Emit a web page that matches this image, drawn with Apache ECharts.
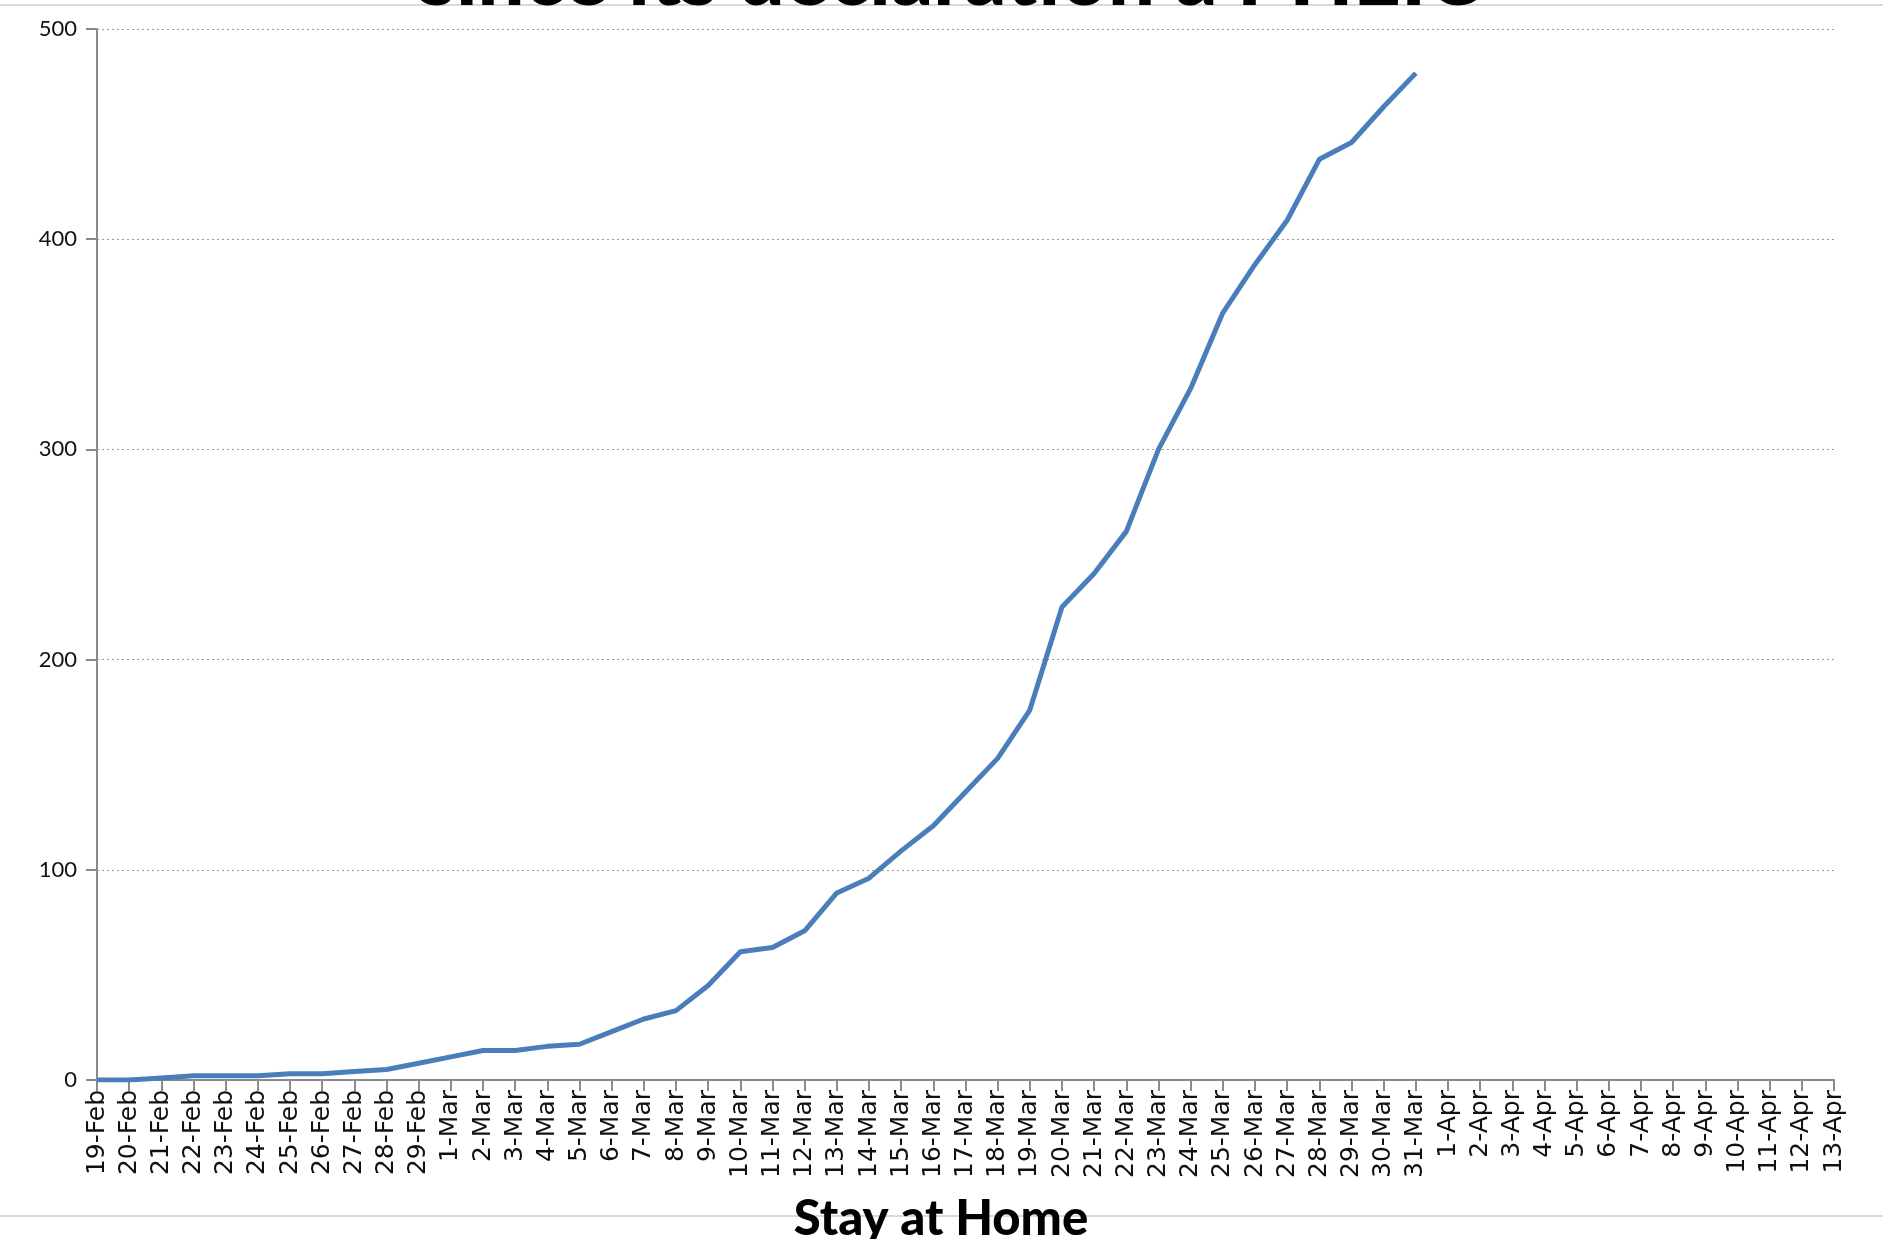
<!DOCTYPE html>
<html>
<head>
<meta charset="utf-8">
<script src="https://cdn.jsdelivr.net/npm/echarts@6/dist/echarts.min.js"></script>
<style>
html,body{margin:0;padding:0;background:#fff;}
#chart{width:1883px;height:1239px;}
</style>
</head>
<body>
<div id="chart"></div>
<script>
var categories = [
  '19-Feb','20-Feb','21-Feb','22-Feb','23-Feb','24-Feb','25-Feb','26-Feb','27-Feb','28-Feb','29-Feb',
  '1-Mar','2-Mar','3-Mar','4-Mar','5-Mar','6-Mar','7-Mar','8-Mar','9-Mar','10-Mar',
  '11-Mar','12-Mar','13-Mar','14-Mar','15-Mar','16-Mar','17-Mar','18-Mar','19-Mar','20-Mar',
  '21-Mar','22-Mar','23-Mar','24-Mar','25-Mar','26-Mar','27-Mar','28-Mar','29-Mar','30-Mar','31-Mar',
  '1-Apr','2-Apr','3-Apr','4-Apr','5-Apr','6-Apr','7-Apr','8-Apr','9-Apr','10-Apr','11-Apr','12-Apr','13-Apr'
];
var values = [
  0,0,1,2,2,2,3,3,4,5,8,
  11,14,14,16,17,23,29,33,45,61,
  63,71,89,96,109,121,137,153,176,225,
  241,261,300,329,365,388,409,438,446,463,479
];
var yTicks = [0,100,200,300,400,500];
var titleText = 'since its declaration a PHEIC';
var bottomText = 'Stay at Home';

var chart = echarts.init(document.getElementById('chart'), null, {renderer:'canvas'});
var option = {
  backgroundColor: '#ffffff',
  animation: false,
  grid: {left: 97, right: 49, top: 29, bottom: 159, containLabel: false},
  xAxis: {
    type: 'category',
    data: categories,
    boundaryGap: false,
    axisLine: {show: true, lineStyle: {color: '#8a8a8a', width: 2}},
    axisTick: {show: true, interval: 0, length: 11, lineStyle: {color: '#8a8a8a', width: 2}},
    axisLabel: {interval: 0, rotate: 90, margin: 10, fontFamily: 'DejaVu Sans', fontSize: 25, color: '#111'},
    splitLine: {show: false}
  },
  yAxis: {
    type: 'value',
    min: yTicks[0],
    max: yTicks[yTicks.length-1],
    interval: 100,
    axisLine: {show: true, lineStyle: {color: '#8a8a8a', width: 2}},
    axisTick: {show: true, length: 11, lineStyle: {color: '#8a8a8a', width: 2}},
    axisLabel: {margin: 20, fontFamily: 'Lato', fontSize: 22, color: '#111'},
    splitLine: {show: true, lineStyle: {color: '#9a9a9a', type: [2, 3], width: 1}}
  },
  series: [{
    type: 'line',
    data: values,
    showSymbol: false,
    symbol: 'none',
    lineStyle: {color: '#4a7ebb', width: 5},
    itemStyle: {color: '#4a7ebb'},
    z: 3
  }],
  graphic: [
    {type: 'rect', left: 0, top: 4, shape: {width: 1883, height: 2}, style: {fill: '#d9d9d9'}, z: 1},
    {type: 'rect', left: 0, top: 1215, shape: {width: 1883, height: 2}, style: {fill: '#d9d9d9'}, z: 1},
    {type: 'text', x: 950, y: -22, z: 5, style: {text: titleText, fill: '#000', font: '900 83px Lato', align: 'center', verticalAlign: 'middle'}},
    {type: 'text', x: 941, y: 1219, z: 5, style: {text: bottomText, fill: '#000', font: '900 49px Lato', align: 'center', verticalAlign: 'middle'}}
  ]
};
chart.setOption(option);
</script>
</body>
</html>
